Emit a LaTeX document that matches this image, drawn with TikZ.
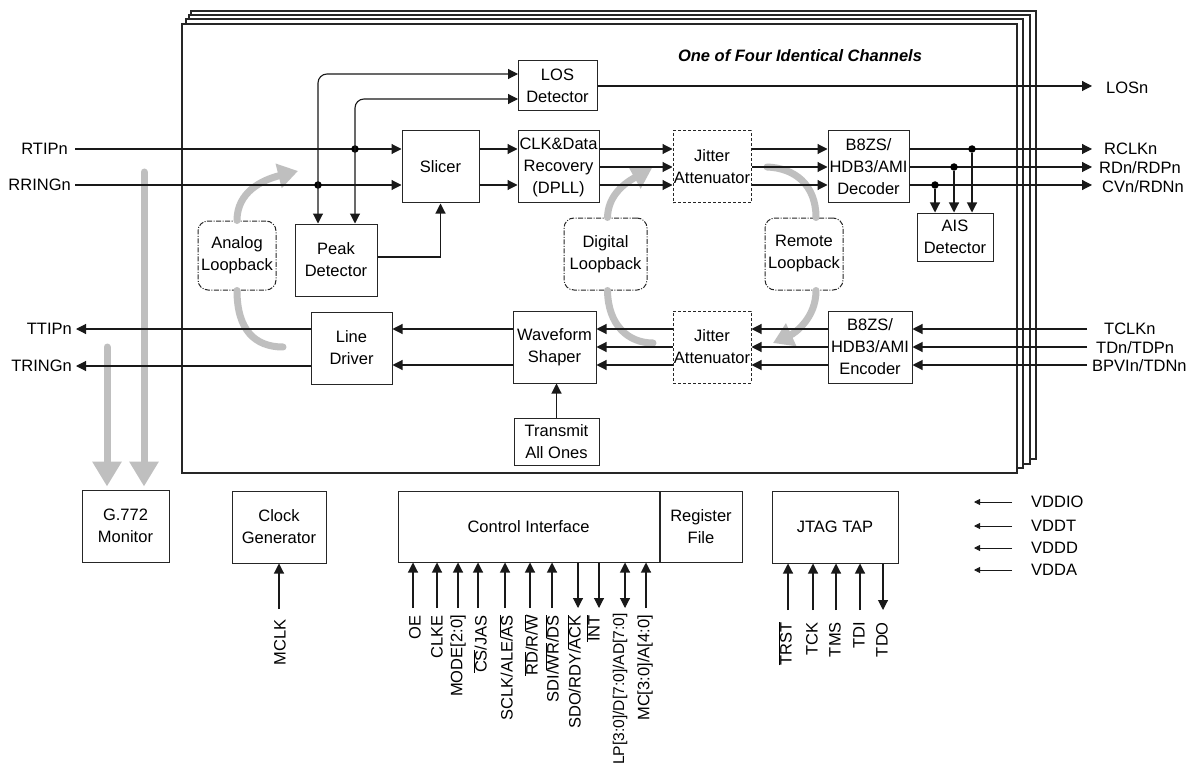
\documentclass[tikz,border=0pt]{standalone}
\usepackage{fontspec}
\setmainfont{Liberation Sans}
\usetikzlibrary{arrows.meta}
\newcommand\fs{\fontsize{16.5}{22}\selectfont}
\newcommand\ovl[1]{$\overline{\mbox{#1}}$}
\begin{document}
\begin{tikzpicture}[x=1pt,y=-1pt,
  blk/.style={draw=black!85, line width=1pt, fill=white, inner sep=0pt, align=center, font=\fs},
  dblk/.style={blk, dash pattern=on 3pt off 2pt},
  lpblk/.style={blk, rounded corners=10pt, dash pattern=on 5pt off 1.5pt on 1pt off 1.5pt},
  frm/.style={draw=black!85, line width=1.1pt, fill=white},
  wire/.style={draw=black!90, line width=1.1pt},
  arr/.style={wire, -{Triangle[length=10pt,width=10pt]}},
  barr/.style={wire, {Triangle[length=10pt,width=10pt]}-{Triangle[length=10pt,width=10pt]}},
  sarr/.style={wire, line width=0.8pt, -{Triangle[length=6pt,width=6pt]}},
  fat/.style={draw=black!25, line width=7pt, line cap=round},
  fatarr/.style={fat, -{Triangle[length=25pt,width=28pt]}},
  loopar/.style={fat, -{Triangle[length=20pt,width=24pt]}},
  lbl/.style={font=\fs, inner sep=0pt},
  pinlbl/.style={lbl, rotate=90, anchor=east},
  jdot/.style={circle, fill=black, inner sep=0pt, minimum size=7.5pt},
]
\useasboundingbox (0,0) rectangle (1188,770);

% G.772 monitor taps (behind the line wires)
\node[blk, minimum width=87, minimum height=72] (g772) at (125.5,526) {G.772\\Monitor};
\coordinate (gm1) at (144,172);
\coordinate (gm2) at (107,347);
\draw[fatarr, shorten >=3pt] (gm1) -- (gm1 |- g772.north);
\draw[fatarr, shorten >=3pt] (gm2) -- (gm2 |- g772.north);

% four stacked channel frames
\draw[frm] (191,11) rectangle (1036,459);
\draw[frm] (189,15) rectangle (1030,464);
\draw[frm] (186,19) rectangle (1023,468);
\draw[frm] (182,24) rectangle (1017,473);
\node[lbl, font=\fs\bfseries\itshape] (title) at (800,56) {One of Four Identical Channels};

% receive path blocks
\node[blk, minimum width=79, minimum height=50] (los) at (557.5,86) {LOS\\Detector};
\node[blk, minimum width=77, minimum height=72] (slicer) at (440.5,167) {Slicer};
\node[blk, minimum width=81, minimum height=72] (cdr) at (558.5,167) {CLK\&Data\\Recovery\\(DPLL)};
\node[dblk, minimum width=78, minimum height=72] (jarx) at (712,167) {Jitter\\Attenuator};
\node[blk, minimum width=81, minimum height=72] (dec) at (868.5,167) {B8ZS/\\HDB3/AMI\\Decoder};
\node[blk, minimum width=76, minimum height=48] (ais) at (955,237) {AIS\\Detector};
\node[blk, minimum width=82, minimum height=72] (peak) at (336,260) {Peak\\Detector};

% loopback labels
\node[lpblk, minimum width=78, minimum height=69] (analog) at (237,255.5) {Analog\\Loopback};
\node[lpblk, minimum width=83, minimum height=72] (digital) at (605.5,254) {Digital\\Loopback};
\node[lpblk, minimum width=78, minimum height=72] (remote) at (804,254) {Remote\\Loopback};

% transmit path blocks
\node[blk, minimum width=81, minimum height=72] (ldrv) at (351.5,348) {Line\\Driver};
\node[blk, minimum width=83, minimum height=72] (wave) at (554.5,347) {Waveform\\Shaper};
\node[dblk, minimum width=78, minimum height=72] (jatx) at (712,347) {Jitter\\Attenuator};
\node[blk, minimum width=84, minimum height=72] (enc) at (870,347) {B8ZS/\\HDB3/AMI\\Encoder};
\node[blk, minimum width=85, minimum height=47] (tao) at (556.5,441.5) {Transmit\\All Ones};

% loopback paths
\draw[loopar] (analog.north) .. controls (237,192) and (262,180) .. (298,171);
\draw[fat] (analog.south) .. controls (237,330) and (255,347) .. (283,347);
\draw[loopar] ([xshift=2pt]digital.north) .. controls (608,195) and (625,183) .. (652,168);
\draw[fat] ([xshift=2pt]digital.south) .. controls (608,325) and (628,343) .. (653,343);
\draw[fat] ([xshift=12pt]remote.north) .. controls (816,185) and (795,168) .. (767,167);
\draw[loopar] ([xshift=12pt]remote.south) .. controls (816,318) and (795,333) .. (773,343);

% receive inputs
\coordinate (rtipE) at (75,149);
\coordinate (rringE) at (75,185);
\node[lbl, anchor=east] (lrtip) at (68,149) {RTIPn};
\node[lbl, anchor=east] (lrring) at (71,185) {RRINGn};
\draw[arr] (rtipE) -- (rtipE -| slicer.west);
\draw[arr] (rringE) -- (rringE -| slicer.west);
\node[jdot] (d1) at (355,149) {};
\node[jdot] (d2) at (318,185) {};
\coordinate (losA) at (518,74);
\coordinate (losB) at (518,99);
\draw[barr, rounded corners=9pt] (d2 |- peak.north) |- (losA);
\draw[barr, rounded corners=9pt] (d1 |- peak.north) |- (losB);
\draw[arr] ([yshift=3pt]peak.east) -| (slicer.south);

% slicer to decoder
\draw[arr] (slicer.east |- d1) -- (cdr.west |- d1);
\draw[arr] (slicer.east |- d2) -- (cdr.west |- d2);
\draw[arr] (cdr.east |- d1) -- (jarx.west |- d1);
\draw[arr] (cdr.east) -- (jarx.west);
\draw[arr] (cdr.east |- d2) -- (jarx.west |- d2);
\draw[arr] (jarx.east |- d1) -- (dec.west |- d1);
\draw[arr] (jarx.east) -- (dec.west);
\draw[arr] (jarx.east |- d2) -- (dec.west |- d2);

% receive outputs
\coordinate (oL) at (1092,86);
\coordinate (oR) at (1092,149);
\coordinate (oD) at (1092,167);
\coordinate (oC) at (1092,185);
\draw[arr] (los.east) -- (oL);
\draw[arr] (dec.east |- oR) -- (oR);
\draw[arr] (dec.east |- oD) -- (oD);
\draw[arr] (dec.east |- oC) -- (oC);
\node[lbl, anchor=west] (llos) at (1106,88) {LOSn};
\node[lbl, anchor=west] (lrclk) at (1104,149) {RCLKn};
\node[lbl, anchor=west] (lrd) at (1099,168) {RDn/RDPn};
\node[lbl, anchor=west] (lcv) at (1102,187) {CVn/RDNn};
\node[jdot] (a1) at (972,149) {};
\node[jdot] (a2) at (954,167) {};
\node[jdot] (a3) at (935,185) {};
\draw[arr] (a1) -- (a1 |- ais.north);
\draw[arr] (a2) -- (a2 |- ais.north);
\draw[arr] (a3) -- (a3 |- ais.north);

% transmit inputs
\coordinate (iT) at (1087,329);
\coordinate (iD) at (1087,347);
\coordinate (iB) at (1087,365);
\node[lbl, anchor=west] (ltclk) at (1104,329) {TCLKn};
\node[lbl, anchor=west] (ltd) at (1096,348) {TDn/TDPn};
\node[lbl, anchor=west] (lbpv) at (1092,366) {BPVIn/TDNn};
\draw[arr] (iT) -- (iT -| enc.east);
\draw[arr] (iD) -- (iD -| enc.east);
\draw[arr] (iB) -- (iB -| enc.east);
\draw[arr] (enc.west |- iT) -- (jatx.east |- iT);
\draw[arr] (enc.west |- iD) -- (jatx.east |- iD);
\draw[arr] (enc.west |- iB) -- (jatx.east |- iB);
\draw[arr] (jatx.west |- iT) -- (wave.east |- iT);
\draw[arr] (jatx.west |- iD) -- (wave.east |- iD);
\draw[arr] (jatx.west |- iB) -- (wave.east |- iB);
\draw[arr] (wave.west |- iT) -- (ldrv.east |- iT);
\draw[arr] (wave.west |- iB) -- (ldrv.east |- iB);
\draw[arr] (tao.north) -- (tao.north |- wave.south);

% transmit outputs
\coordinate (oTT) at (76,329);
\coordinate (oTR) at (76,366);
\draw[arr] (ldrv.west |- oTT) -- (oTT);
\draw[arr] (ldrv.west |- oTR) -- (oTR);
\node[lbl, anchor=east] (lttip) at (72,329) {TTIPn};
\node[lbl, anchor=east] (ltring) at (72,366) {TRINGn};

% common blocks
\node[blk, minimum width=94, minimum height=72] (clkgen) at (279,527) {Clock\\Generator};
\node[blk, minimum width=261, minimum height=71] (ctrl) at (528.5,526.5) {Control Interface};
\node[blk, minimum width=82, minimum height=71, anchor=west] (reg) at (ctrl.east) {Register\\File};
\node[blk, minimum width=126, minimum height=72] (jtag) at (835,527) {JTAG TAP};

% clock input
\node[pinlbl] (lmclk) at (280,619) {MCLK};
\coordinate (cmclk) at (279,609);
\draw[arr] (cmclk) -- (cmclk |- clkgen.south);

% control interface pins
\foreach \n/\lx/\px/\t in {
  p1/415/413/OE, p2/437/437/CLKE, p3/458/458/{MODE[2:0]},
  p4/480/478/{\ovl{CS}/JAS}, p5/506/505/{SCLK/ALE/\ovl{AS}},
  p6/531/530/{\ovl{RD}/R/\ovl{W}}, p7/552/552/{SDI/\ovl{WR}/\ovl{DS}},
  p11/645/646/{MC[3:0]/A[4:0]}}{
  \node[pinlbl] (l\n) at (\lx,615) {\t};
  \coordinate (c\n) at (\px,608);
  \draw[arr] (c\n) -- (c\n |- ctrl.south);
}
\node[pinlbl] (lp8) at (574,615) {SDO/RDY/\ovl{ACK}};
\coordinate (cp8) at (578,608);
\draw[arr] (cp8 |- ctrl.south) -- (cp8);
\node[pinlbl] (lp9) at (593,615) {\ovl{INT}};
\coordinate (cp9) at (599,608);
\draw[arr] (cp9 |- ctrl.south) -- (cp9);
\node[pinlbl, font=\fontsize{15.6}{20}\selectfont] (lp10) at (620,613) {LP[3:0]/D[7:0]/AD[7:0]};
\coordinate (cp10) at (625,608);
\draw[barr] (cp10) -- (cp10 |- ctrl.south);

% JTAG pins
\foreach \n/\lx/\px/\t in {j1/785/788/\ovl{TRST}, j2/812/813/TCK, j3/835/836/TMS, j4/859/860/TDI}{
  \node[pinlbl] (l\n) at (\lx,622) {\t};
  \coordinate (c\n) at (\px,610);
  \draw[arr] (c\n) -- (c\n |- jtag.south);
}
\node[pinlbl] (lj5) at (882,622) {TDO};
\coordinate (cj5) at (883,610);
\draw[arr] (cj5 |- jtag.south) -- (cj5);

% supply pins
\foreach \n/\t/\y in {vio/VDDIO/502, vt/VDDT/526, vd/VDDD/548, va/VDDA/570}{
  \node[lbl, anchor=west] (l\n) at (1031,\y) {\t};
  \coordinate (c\n) at (974,\y);
  \draw[sarr] ([xshift=-19pt]l\n.west) -- (c\n);
}
\end{tikzpicture}
\end{document}
